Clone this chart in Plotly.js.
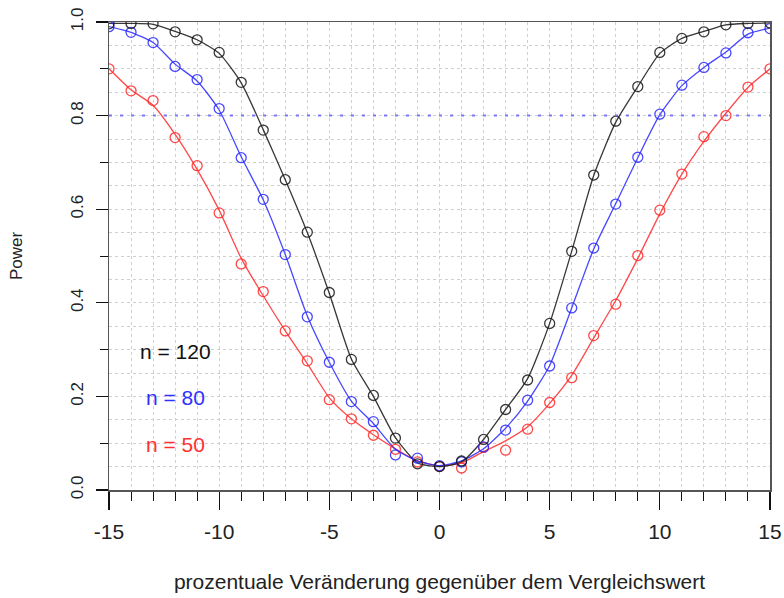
<!DOCTYPE html>
<html>
<head>
<meta charset="utf-8">
<script src="https://cdn.plot.ly/plotly-3.0.1.min.js"></script>
<style>html,body{margin:0;padding:0;background:#fff;}#chart{width:784px;height:598px;}</style>
</head>
<body>
<div id="chart"></div>
<script>
// x: prozentuale Veränderung
const changes = [-15,-14,-13,-12,-11,-10,-9,-8,-7,-6,-5,-4,-3,-2,-1,0,1,2,3,4,5,6,7,8,9,10,11,12,13,14,15];

// simulated power (points)
const pts120 = [0.996,0.997,0.996,0.979,0.962,0.935,0.871,0.769,0.663,0.551,0.422,0.279,0.202,0.111,0.056,0.050,0.062,0.108,0.172,0.235,0.356,0.510,0.673,0.788,0.862,0.935,0.965,0.979,0.994,0.997,0.998];
const pts80  = [0.990,0.978,0.956,0.905,0.877,0.815,0.710,0.621,0.503,0.370,0.273,0.189,0.146,0.075,0.068,0.052,0.060,0.092,0.128,0.192,0.265,0.389,0.517,0.611,0.711,0.803,0.865,0.903,0.934,0.977,0.986];
const pts50  = [0.900,0.853,0.832,0.753,0.693,0.592,0.483,0.424,0.340,0.276,0.193,0.152,0.117,0.087,0.060,0.050,0.047,0.091,0.085,0.130,0.187,0.240,0.330,0.397,0.501,0.598,0.675,0.755,0.800,0.861,0.900];

// smoothed power curves (lines)
const line120 = [0.997,0.997,0.995,0.980,0.962,0.933,0.870,0.770,0.663,0.550,0.420,0.280,0.200,0.112,0.058,0.050,0.060,0.108,0.172,0.238,0.356,0.510,0.672,0.786,0.862,0.933,0.965,0.980,0.994,0.997,0.998];
const line80  = [0.990,0.978,0.956,0.910,0.874,0.812,0.712,0.620,0.503,0.372,0.273,0.190,0.142,0.087,0.062,0.052,0.062,0.088,0.132,0.190,0.266,0.389,0.515,0.612,0.710,0.802,0.864,0.903,0.936,0.974,0.987];
const line50  = [0.900,0.855,0.822,0.760,0.685,0.598,0.495,0.415,0.340,0.270,0.197,0.152,0.118,0.088,0.062,0.052,0.058,0.082,0.105,0.135,0.185,0.245,0.325,0.405,0.495,0.590,0.675,0.745,0.805,0.860,0.900];

const seriesLabels = ["n = 120", "n = 80", "n = 50"];
const xTickVals = [-15, -10, -5, 0, 5, 10, 15];
const xTickText = ["-15", "-10", "-5", "0", "5", "10", "15"];
const targetPower = 0.8;

const cBlack = "rgba(20,20,20,0.85)";
const cBlue = "rgba(40,40,255,0.85)";
const cRed = "rgba(255,40,40,0.85)";

function lineTrace(y, color) {
  return {x: changes, y: y, type: "scatter", mode: "lines",
    line: {color: color, width: 1.3, shape: "spline", smoothing: 0.6},
    hoverinfo: "skip", showlegend: false};
}
function ptTrace(y, color) {
  return {x: changes, y: y, type: "scatter", mode: "markers",
    marker: {symbol: "circle-open", size: 10, color: color, line: {width: 1.3, color: color}},
    showlegend: false};
}

const data = [
  lineTrace(line50, cRed), lineTrace(line80, cBlue), lineTrace(line120, cBlack),
  ptTrace(pts50, cRed), ptTrace(pts80, cBlue), ptTrace(pts120, cBlack)
];

const font = "Liberation Sans, Arial, sans-serif";
const gridCol = "#cfcfcf";

const layout = {
  width: 784, height: 598,
  margin: {l: 108.5, r: 14, t: 22, b: 108},
  paper_bgcolor: "#fff", plot_bgcolor: "#fff",
  font: {family: font, size: 17, color: "#222"},
  showlegend: false,
  xaxis: {
    range: [-15, 15], tickvals: xTickVals, ticktext: xTickText,
    ticks: "outside", ticklen: 18, tickwidth: 1.2, tickcolor: "#111",
    ticklabelstandoff: 4,
    showline: true, linecolor: "#555", linewidth: 1.5, mirror: true,
    showgrid: true, gridcolor: gridCol, griddash: "dot", gridwidth: 1,
    zeroline: false,
    minor: {dtick: 1, ticks: "outside", ticklen: 9, tickcolor: "#111", tickwidth: 1,
            showgrid: true, gridcolor: gridCol, griddash: "dot", gridwidth: 1},
    tickfont: {size: 21, color: "#222"},
    title: {text: "prozentuale Veränderung gegenüber dem Vergleichswert", font: {size: 21, color: "#222"}, standoff: 32}
  },
  yaxis: {
    range: [0, 1], dtick: 0.2, tick0: 0, tickformat: ".1f",
    ticks: "outside", ticklen: 12, tickwidth: 1.2, tickcolor: "#111",
    tickangle: -90, ticklabelstandoff: 6,
    showline: true, linecolor: "#555", linewidth: 1.5, mirror: true,
    showgrid: true, gridcolor: gridCol, griddash: "dot", gridwidth: 1,
    zeroline: false,
    minor: {dtick: 0.05, ticks: "", showgrid: true, gridcolor: gridCol, griddash: "dot", gridwidth: 1},
    tickfont: {size: 17, color: "#222"},
    title: {text: "Power", font: {size: 17, color: "#222"}, standoff: 41}
  },
  yaxis2: {
    overlaying: "y", side: "left", range: [0, 1],
    tickvals: [0.1, 0.3, 0.5, 0.7, 0.9], ticks: "outside", ticklen: 8, tickcolor: "#111", tickwidth: 1,
    showticklabels: false, showgrid: false, zeroline: false, showline: false
  },
  shapes: [{type: "line", xref: "paper", x0: 0, x1: 1, yref: "y", y0: targetPower, y1: targetPower,
    line: {color: "rgba(100,100,255,0.85)", width: 2, dash: "3px,8px"}}],
  annotations: [
    {x: -12, y: 0.295, xref: "x", yref: "y", text: seriesLabels[0], showarrow: false, font: {size: 21, color: "#111"}},
    {x: -12, y: 0.197, xref: "x", yref: "y", text: seriesLabels[1], showarrow: false, font: {size: 21, color: "#3030ff"}},
    {x: -12, y: 0.097, xref: "x", yref: "y", text: seriesLabels[2], showarrow: false, font: {size: 21, color: "#ff3030"}}
  ]
};

// invisible trace to activate yaxis2
data.push({x: [changes[0]], y: [null], yaxis: "y2", type: "scatter", mode: "markers", hoverinfo: "skip", showlegend: false});

Plotly.newPlot("chart", data, layout, {displayModeBar: false, staticPlot: true});
</script>
</body>
</html>
